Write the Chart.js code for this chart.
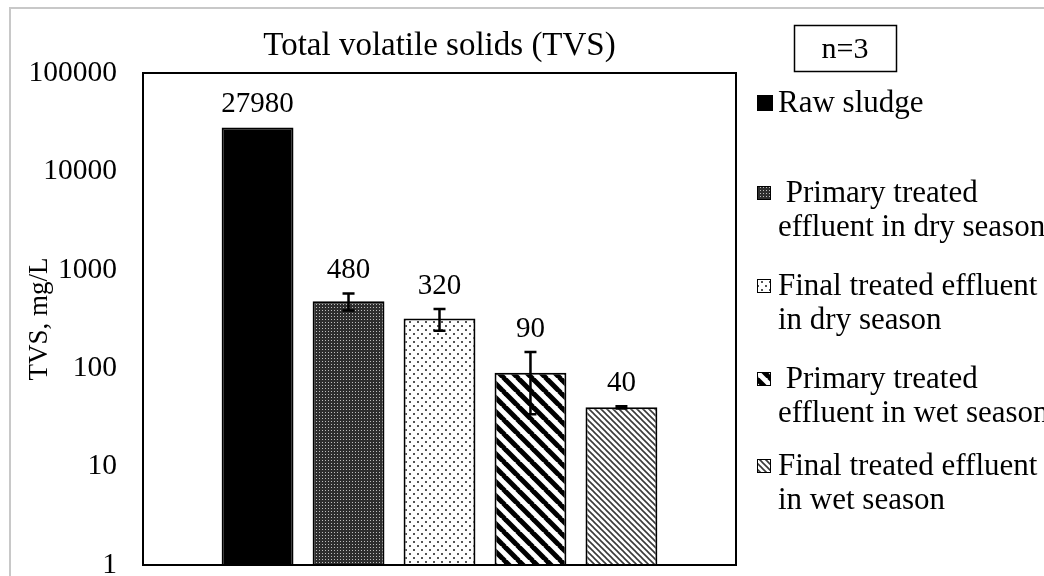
<!DOCTYPE html>
<html>
<head>
<meta charset="utf-8">
<script src="https://cdn.jsdelivr.net/npm/chart.js@4.4.1/dist/chart.umd.min.js"></script>
<style>
  html, body { margin: 0; padding: 0; background: #fff; }
  canvas { display: block; }
</style>
</head>
<body>
<canvas id="c" width="1044" height="576"></canvas>
<script>
// ---- data ----
const categories = ['TVS'];
const seriesNames = [
  'Raw sludge',
  'Primary treated effluent in dry season',
  'Final treated effluent in dry season',
  'Primary treated effluent in wet season',
  'Final treated effluent in wet season'
];
const legendLines = [
  ['Raw sludge'],
  [' Primary treated', 'effluent in dry season'],
  ['Final treated effluent', 'in dry season'],
  [' Primary treated', 'effluent in wet season'],
  ['Final treated effluent', 'in wet season']
];
const tvsValues = [27980, 480, 320, 90, 40];      // mg/L
const tvsErrors = [0, 95, 80, 56, 1];             // +/- error
const yTickValues = [1, 10, 100, 1000, 10000, 100000];
const chartTitle = 'Total volatile solids (TVS)';
const sampleNote = 'n=3';
const yAxisTitle = 'TVS, mg/L';

const SERIF = '"Liberation Serif", "Times New Roman", serif';
const canvas = document.getElementById('c');
const ctx0 = canvas.getContext('2d');

// ---- fill patterns ----
function tile(size, draw) {
  const t = document.createElement('canvas');
  t.width = t.height = size;
  const g = t.getContext('2d');
  g.fillStyle = '#fff';
  g.fillRect(0, 0, size, size);
  draw(g, size);
  return ctx0.createPattern(t, 'repeat');
}
function diag(g, s, color, w) {
  g.strokeStyle = color;
  g.lineWidth = w;
  for (const k of [-s, 0, s]) {
    g.beginPath();
    g.moveTo(k - 1, -1);
    g.lineTo(k + s + 1, s + 1);
    g.stroke();
  }
}
const fills = [
  '#000000',
  tile(3, (g) => { g.fillStyle = '#2e2e2e'; g.fillRect(0, 0, 3, 3); g.fillStyle = '#bdbdbd'; g.fillRect(1, 1, 1, 1); }),
  tile(8, (g) => { g.fillStyle = '#555'; g.fillRect(1, 1, 2, 2); g.fillRect(5, 5, 2, 2); }),
  tile(14, (g, s) => diag(g, s, '#000', 5)),
  tile(6, (g, s) => diag(g, s, '#3a3a3a', 1.6))
];

// ---- overlay drawing: error bars, value labels, frame, title, legend ----
const overlay = {
  id: 'overlay',
  afterDatasetsDraw(chart) {
    const ctx = chart.ctx;
    const y = chart.scales.y;
    ctx.save();
    chart.data.datasets.forEach((ds, i) => {
      const bar = chart.getDatasetMeta(i).data[0];
      const v = tvsValues[i];
      const e = tvsErrors[i];
      const yTop = y.getPixelForValue(v);
      let labelRef = yTop;
      if (e > 0) {
        const yHi = y.getPixelForValue(v + e);
        const yLo = y.getPixelForValue(v - e);
        ctx.strokeStyle = '#000';
        ctx.lineWidth = 2.5;
        ctx.beginPath();
        ctx.moveTo(bar.x, yHi); ctx.lineTo(bar.x, yLo);
        ctx.moveTo(bar.x - 6, yHi); ctx.lineTo(bar.x + 6, yHi);
        ctx.moveTo(bar.x - 6, yLo); ctx.lineTo(bar.x + 6, yLo);
        ctx.stroke();
        labelRef = Math.min(yTop, yHi);
      }
      ctx.fillStyle = '#000';
      ctx.font = '29px ' + SERIF;
      ctx.textAlign = 'center';
      ctx.textBaseline = 'middle';
      ctx.fillText(String(v), bar.x, labelRef - 23);
    });
    ctx.restore();
  },
  afterDraw(chart) {
    const ctx = chart.ctx;
    const a = chart.chartArea;
    ctx.save();
    // outer frame
    ctx.strokeStyle = '#c8c8c8';
    ctx.lineWidth = 2;
    ctx.strokeRect(10, 8, 1100, 1100);
    // plot frame
    ctx.strokeStyle = '#000';
    ctx.lineWidth = 2;
    ctx.strokeRect(a.left, a.top, a.right - a.left, a.bottom - a.top);
    // title
    ctx.fillStyle = '#000';
    ctx.textAlign = 'center';
    ctx.textBaseline = 'middle';
    ctx.font = '33px ' + SERIF;
    ctx.fillText(chartTitle, (a.left + a.right) / 2, 46);
    // sample size box
    ctx.lineWidth = 1.5;
    ctx.strokeRect(794.5, 25.5, 102, 46);
    ctx.font = '30px ' + SERIF;
    ctx.fillText(sampleNote, 845, 50);
    // legend
    const itemY = [103, 193, 286, 379, 466];
    const lineGap = 34;
    ctx.textAlign = 'left';
    legendLines.forEach((lines, i) => {
      const cy = itemY[i];
      const sz = i === 0 ? 16 : 14;
      ctx.fillStyle = fills[i];
      ctx.fillRect(757, cy - sz / 2, sz, sz);
      ctx.strokeStyle = '#000';
      ctx.lineWidth = 1;
      ctx.strokeRect(757.5, cy - sz / 2 + 0.5, sz - 1, sz - 1);
      ctx.fillStyle = '#000';
      ctx.font = '31px ' + SERIF;
      lines.forEach((t, j) => ctx.fillText(t, 778, cy + j * lineGap + 1));
    });
    ctx.restore();
  }
};

new Chart(canvas, {
  type: 'bar',
  data: {
    labels: categories,
    datasets: seriesNames.map((name, i) => ({
      label: name,
      data: [tvsValues[i]],
      backgroundColor: fills[i],
      borderColor: '#000',
      borderWidth: 2,
      borderSkipped: 'start',
      categoryPercentage: 0.767,
      barPercentage: 0.79
    }))
  },
  options: {
    responsive: false,
    animation: false,
    devicePixelRatio: 1,
    layout: { padding: { left: 0, top: 73, right: 308, bottom: 11 } },
    plugins: {
      legend: { display: false },
      tooltip: { enabled: false },
      title: { display: false }
    },
    scales: {
      x: { display: false },
      y: {
        type: 'logarithmic',
        min: 1,
        max: 100000,
        afterBuildTicks: (s) => { s.ticks = yTickValues.map((v) => ({ value: v })); },
        afterFit: (s) => { s.width = 143; s.paddingTop = 0; s.paddingBottom = 0; },
        grid: { display: false, drawTicks: false },
        border: { display: false },
        ticks: {
          autoSkip: false,
          padding: 26,
          color: '#000',
          font: { family: SERIF, size: 29.5 },
          callback: (v) => String(v)
        },
        title: {
          display: true,
          text: yAxisTitle,
          color: '#000',
          font: { family: SERIF, size: 27 },
          padding: { top: 24, bottom: 0 }
        }
      }
    }
  },
  plugins: [overlay]
});
</script>
</body>
</html>
